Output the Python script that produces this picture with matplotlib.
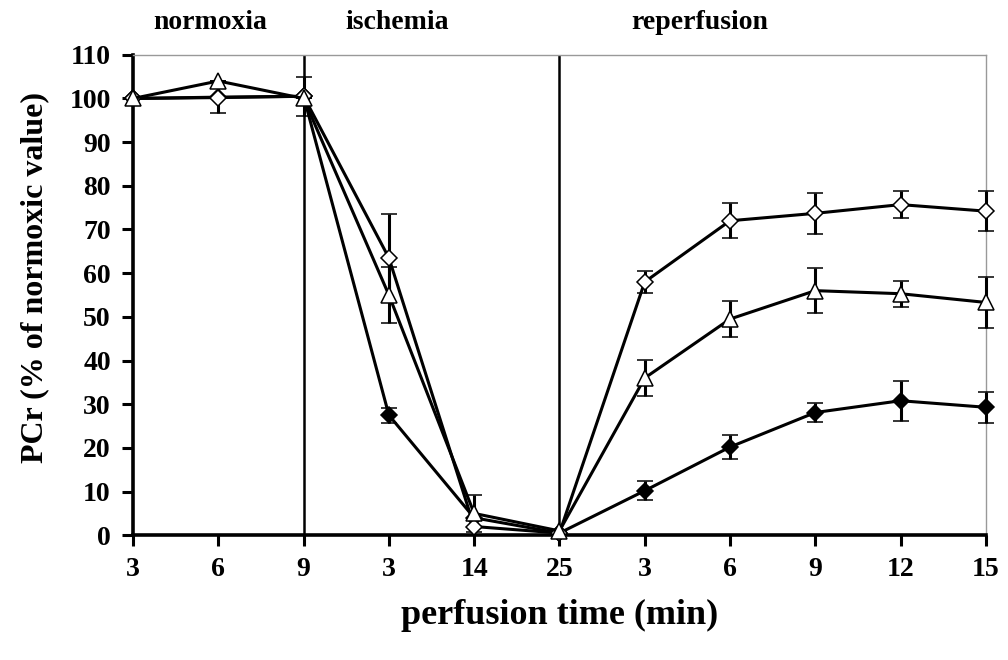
import matplotlib.pyplot as plt
import matplotlib.transforms as mtransforms

plt.rcParams["font.family"] = ["Liberation Serif", "DejaVu Serif"]
plt.rcParams["font.weight"] = "bold"

# time points (min) within each phase
tick_labels = ["3", "6", "9", "3", "14", "25", "3", "6", "9", "12", "15"]
phases = ["normoxia", "ischemia", "reperfusion"]

# PCr, % of normoxic value
open_diamond = [100, 100.2, 100.5, 63.5, 2, 0.5, 58, 72, 73.7, 75.7, 74.2]
open_diamond_err = [0, 3.5, 4.5, 10, 0, 0, 2.5, 4, 4.7, 3, 4.5]

triangle = [100, 104, 100, 55, 5, 1, 36, 49.5, 56, 55.3, 53.3]
triangle_err = [0, 0, 0, 6.5, 4.2, 0, 4.2, 4.2, 5.2, 3, 5.8]

filled_diamond = [100, 100.3, 100.5, 27.5, 4, 0.5, 10.2, 20.2, 28.1, 30.8, 29.3]
filled_diamond_err = [0, 0, 0, 1.7, 0, 0, 2.2, 2.7, 2.1, 4.6, 3.5]

x = list(range(len(tick_labels)))

fig = plt.figure(figsize=(10.08, 6.6), dpi=100)
ax = fig.add_axes([0.132, 0.189, 0.846, 0.728])

# phase boundaries
for xb in (2, 5):
    ax.plot([xb, xb], [0, 110], color="black", lw=1.8, zorder=1)

common = dict(color="black", lw=2.2, elinewidth=2.2, capsize=5.5,
              capthick=2.2, markeredgewidth=1.1, zorder=3)
series = [
    (filled_diamond, filled_diamond_err, "D", 8.5, "black"),
    (open_diamond, open_diamond_err, "D", 8.5, "white"),
    (triangle, triangle_err, "^", 12, "white"),
]
for y, err, mk, ms, fill in series:
    cont = ax.errorbar(x, y, yerr=err, marker=mk, ms=ms, mfc=fill,
                       mec="black", **common)
    cont.lines[0].set_clip_on(False)
    for art in cont.lines[1] + cont.lines[2]:
        art.set_clip_on(False)

ax.set_xlim(0, 10)
ax.set_ylim(0, 110)
ax.set_xticks(x)
ax.set_xticklabels(tick_labels)
ax.set_yticks(range(0, 111, 10))
ax.tick_params(direction="out", length=8, width=2.2, labelsize=20, pad=8)

for side in ("left", "bottom"):
    ax.spines[side].set_linewidth(2.6)
for side in ("top", "right"):
    ax.spines[side].set_linewidth(1.0)
    ax.spines[side].set_color("#999999")

ax.set_xlabel("perfusion time (min)", fontsize=26, fontweight="bold", labelpad=12)
ax.set_ylabel("PCr (% of normoxic value)", fontsize=23, fontweight="bold")
ax.yaxis.set_label_coords(-0.098, 0.537)

trans = mtransforms.blended_transform_factory(ax.transData, ax.transAxes)
for xp, name in zip((0.9, 3.1, 6.65), phases):
    ax.text(xp, 1.068, name, transform=trans, ha="center", va="center",
            fontsize=20, fontweight="bold")

fig.savefig("out.png", dpi=100)
